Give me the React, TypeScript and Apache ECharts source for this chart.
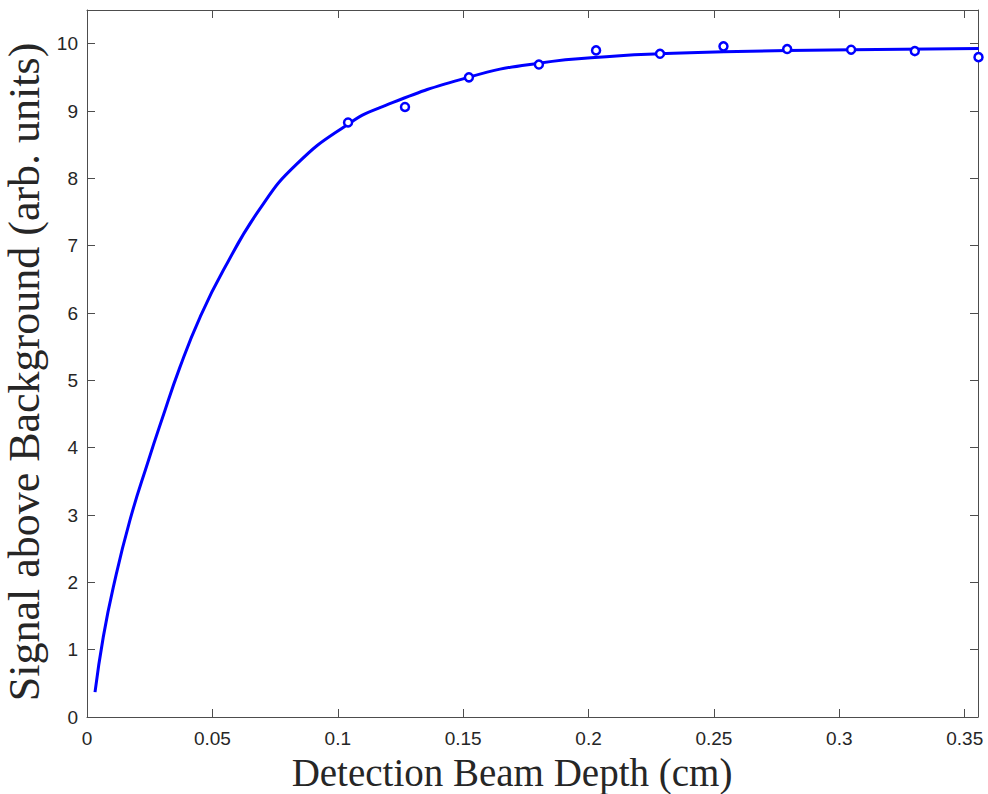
import React, { useEffect, useRef } from "react";
import * as echarts from "echarts";

// Measured data (open circles)
const depthCm = [0.1041, 0.1268, 0.1523, 0.1802, 0.2030, 0.2285, 0.2538, 0.2792, 0.3047, 0.3301, 0.3555];
const signal = [8.83, 9.06, 9.50, 9.69, 9.90, 9.85, 9.96, 9.92, 9.91, 9.89, 9.80];

// Fit curve
const fitX = [0.0032, 0.0065, 0.0105, 0.0171, 0.0245, 0.0298, 0.0371, 0.0451, 0.0543, 0.0690, 0.0836, 0.1035, 0.1168, 0.1520, 0.1800, 0.2125, 0.2286, 0.2540, 0.3050, 0.3556];
const fitY = [0.37, 1.19, 1.93, 2.92, 3.81, 4.41, 5.20, 5.94, 6.63, 7.55, 8.21, 8.79, 9.05, 9.50, 9.71, 9.82, 9.85, 9.88, 9.91, 9.93];

const xTicks = ["0", "0.05", "0.1", "0.15", "0.2", "0.25", "0.3", "0.35"];
const yTicks = ["0", "1", "2", "3", "4", "5", "6", "7", "8", "9", "10"];

const X_MAX = 0.3553;
const Y_MAX = 10.5;

export default function App() {
  const ref = useRef<HTMLDivElement>(null);
  useEffect(() => {
    if (!ref.current) return;
    const chart = echarts.init(ref.current, undefined, { renderer: "svg" });
    const axisColor = "#4d4d4d";
    const labelColor = "#262626";
    const tickFont = { color: labelColor, fontSize: 19, fontFamily: "Liberation Sans, Arial, sans-serif" };
    const fmtX = (v: number) => {
      const i = Math.round(v / 0.05);
      return Math.abs(v - i * 0.05) < 1e-6 && xTicks[i] !== undefined ? xTicks[i] : "";
    };
    const fmtY = (v: number) => {
      const i = Math.round(v);
      return Math.abs(v - i) < 1e-6 && yTicks[i] !== undefined ? yTicks[i] : "";
    };
    const baseX = {
      type: "value" as const,
      min: 0,
      max: X_MAX,
      interval: 0.05,
      splitLine: { show: false },
      axisLine: { show: true, onZero: false, lineStyle: { color: axisColor, width: 1 } },
      axisTick: { show: true, inside: true, length: 8, lineStyle: { color: axisColor } },
    };
    const baseY = {
      type: "value" as const,
      min: 0,
      max: Y_MAX,
      interval: 1,
      splitLine: { show: false },
      axisLine: { show: true, onZero: false, lineStyle: { color: axisColor, width: 1 } },
      axisTick: { show: true, inside: true, length: 8, lineStyle: { color: axisColor } },
    };
    chart.setOption({
      animation: false,
      backgroundColor: "#ffffff",
      grid: { left: 87, top: 10, right: 10, bottom: 77, containLabel: false },
      xAxis: [
        {
          ...baseX,
          position: "bottom",
          axisLabel: { ...tickFont, margin: 12, showMaxLabel: false, formatter: fmtX },
        },
        {
          ...baseX,
          position: "top",
          axisLabel: { show: false },
        },
      ],
      yAxis: [
        {
          ...baseY,
          position: "left",
          axisLabel: { ...tickFont, margin: 9, showMaxLabel: false, formatter: fmtY },
        },
        {
          ...baseY,
          position: "right",
          axisLabel: { show: false },
        },
      ],
      series: [
        {
          type: "line",
          name: "fit",
          xAxisIndex: 0,
          yAxisIndex: 0,
          data: fitX.map((x, i) => [x, fitY[i]]),
          smooth: 0.5,
          showSymbol: false,
          clip: false,
          lineStyle: { color: "#0000ff", width: 3 },
          z: 2,
        },
        {
          type: "scatter",
          name: "data",
          xAxisIndex: 0,
          yAxisIndex: 0,
          clip: false,
          data: depthCm.map((x, i) => [x, signal[i]]),
          symbol: "circle",
          symbolSize: 8,
          itemStyle: { color: "#ffffff", borderColor: "#0000ff", borderWidth: 2.5, opacity: 1 },
          z: 3,
        },
      ],
      graphic: [
        {
          type: "text",
          x: 512,
          y: 753,
          style: {
            text: "Detection Beam Depth (cm)",
            font: "39px 'Liberation Serif', 'DejaVu Serif', serif",
            fill: "#262626",
            align: "center",
            verticalAlign: "top",
          },
        },
        {
          type: "text",
          x: 2,
          y: 372,
          rotation: Math.PI / 2,
          style: {
            text: "Signal above Background (arb. units)",
            font: "44px 'Liberation Serif', 'DejaVu Serif', serif",
            fill: "#262626",
            align: "center",
            verticalAlign: "top",
          },
        },
      ],
    });
    return () => chart.dispose();
  }, []);
  return <div ref={ref} style={{ width: 988, height: 794, position: "absolute", left: 0, top: 0 }} />;
}
